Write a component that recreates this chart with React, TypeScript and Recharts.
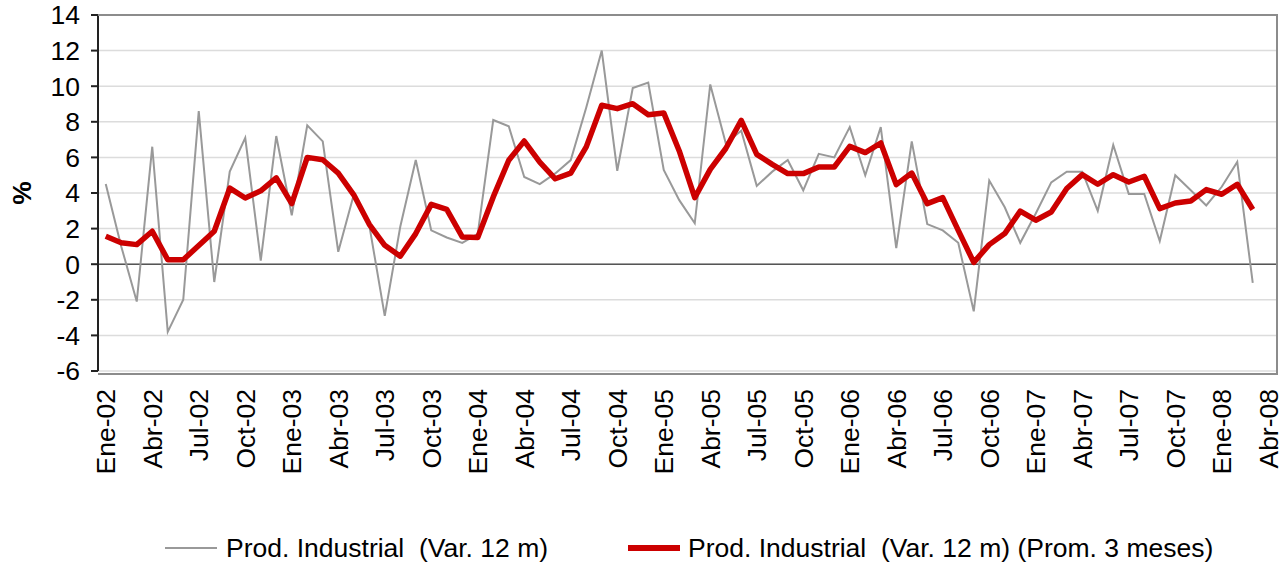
import React from 'react';
import { LineChart, Line, XAxis, YAxis, CartesianGrid, ReferenceLine, Legend } from 'recharts';

const MONTHS = ['Ene', 'Feb', 'Mar', 'Abr', 'May', 'Jun', 'Jul', 'Ago', 'Sep', 'Oct', 'Nov', 'Dic'];
const YEARS = ['02', '03', '04', '05', '06', '07', '08'];
const LAST_MONTH_2008 = 4; // Ene..Abr de 2008

const categories: string[] = [];
YEARS.forEach((y, yi) => {
  const n = yi === YEARS.length - 1 ? LAST_MONTH_2008 : 12;
  for (let m = 0; m < n; m++) categories.push(`${MONTHS[m]}-${y}`);
});

const prodIndustrial: number[] = [
  4.5, 1.0, -2.1, 6.6, -3.8, -2.0, 8.6, -1.0, 5.2, 7.1, 0.2, 7.2,
  2.75, 7.8, 6.9, 0.7, 3.9, 2.2, -2.9, 2.1, 5.85, 1.9, 1.5, 1.2,
  1.7, 8.1, 7.75, 4.9, 4.5, 5.1, 5.85, 8.8, 12.0, 5.25, 9.9, 10.2,
  5.3, 3.6, 2.3, 10.1, 6.8, 7.5, 4.4, 5.2, 5.85, 4.15, 6.2, 6.0,
  7.7, 5.0, 7.7, 0.9, 6.9, 2.25, 1.9, 1.2, -2.65, 4.7, 3.2, 1.2,
  2.85, 4.6, 5.2, 5.2, 3.0, 6.7, 3.95, 3.95, 1.3, 5.0, 4.15, 3.3,
  4.35, 5.75, -1.05,
];

const prodIndustrialProm3: number[] = [
  1.57, 1.2, 1.1, 1.85, 0.25, 0.25, 1.05, 1.85, 4.27, 3.72, 4.12, 4.85,
  3.4, 6.0, 5.87, 5.12, 3.9, 2.24, 1.06, 0.45, 1.72, 3.36, 3.08, 1.53,
  1.5, 3.78, 5.84, 6.92, 5.74, 4.8, 5.12, 6.59, 8.93, 8.74, 9.02, 8.4,
  8.5, 6.36, 3.74, 5.33, 6.5, 8.08, 6.17, 5.61, 5.09, 5.09, 5.46, 5.46,
  6.62, 6.27, 6.81, 4.47, 5.12, 3.4, 3.74, 1.9, 0.1, 1.1, 1.72, 2.98,
  2.47, 2.93, 4.25, 5.03, 4.49, 5.03, 4.62, 4.94, 3.12, 3.44, 3.55, 4.19,
  3.93, 4.49, 3.07,
];

const yTicks: number[] = [-6, -4, -2, 0, 2, 4, 6, 8, 10, 12, 14];

const SERIES_A = 'Prod. Industrial  (Var. 12 m)';
const SERIES_B = 'Prod. Industrial  (Var. 12 m) (Prom. 3 meses)';

const data = categories.map((cat, i) => ({
  cat,
  a: i < prodIndustrial.length ? prodIndustrial[i] : null,
  b: i < prodIndustrialProm3.length ? prodIndustrialProm3[i] : null,
}));

const FONT = '"Liberation Sans", Arial, sans-serif';
const FS = 26.5;

const XTick = (props: any) => {
  const { x, y, payload } = props;
  const ty = y + 10;
  return (
    <text
      x={x}
      y={ty}
      dy="0.36em"
      textAnchor="end"
      transform={`rotate(-90, ${x}, ${ty})`}
      fontFamily={FONT}
      fontSize={FS}
      fill="#000"
    >
      {payload.value}
    </text>
  );
};

const LegendContent = () => (
  <div style={{ position: 'relative', height: 34, width: 1284, fontFamily: FONT, fontSize: FS, color: '#000' }}>
    <div style={{ position: 'absolute', left: 165, top: 16, width: 52, height: 2, background: '#999' }} />
    <div style={{ position: 'absolute', left: 226, top: 0, whiteSpace: 'pre', lineHeight: '34px' }}>{SERIES_A}</div>
    <div style={{ position: 'absolute', left: 628, top: 14, width: 52, height: 6, background: '#cc0000' }} />
    <div style={{ position: 'absolute', left: 688, top: 0, whiteSpace: 'pre', lineHeight: '34px' }}>{SERIES_B}</div>
  </div>
);

export default function App() {
  return (
    <div style={{ position: 'absolute', left: 0, top: 0, width: 1284, height: 567, background: '#fff' }}>
      <LineChart
        width={1284}
        height={567}
        data={data}
        margin={{ top: 15, right: 8, left: 0, bottom: 62 }}
      >
        <CartesianGrid vertical={false} stroke="#dcdcdc" strokeWidth={1.5} />
        <XAxis
          dataKey="cat"
          interval={2}
          tickLine={false}
          axisLine={false}
          height={100}
          padding={{ left: 7.75, right: 7.75 }}
          tick={<XTick />}
        />
        <YAxis
          domain={[-6, 14]}
          ticks={yTicks}
          type="number"
          width={98}
          interval={0}
          tickSize={7}
          tickMargin={11}
          axisLine={{ stroke: '#222', strokeWidth: 2 }}
          tickLine={{ stroke: '#222', strokeWidth: 2 }}
          tick={{ fontFamily: FONT, fontSize: FS, fill: '#000' }}
          label={{
            value: '%',
            angle: -90,
            position: 'insideLeft',
            offset: 22,
            style: { fontFamily: FONT, fontSize: FS, fontWeight: 'bold', fill: '#000', textAnchor: 'middle' },
          }}
        />
        <ReferenceLine y={0} stroke="#555" strokeWidth={1.5} />
        <Line
          type="linear"
          dataKey="a"
          name={SERIES_A}
          stroke="#999999"
          strokeWidth={2}
          dot={false}
          isAnimationActive={false}
        />
        <Line
          type="linear"
          dataKey="b"
          name={SERIES_B}
          stroke="#cc0000"
          strokeWidth={5.5}
          strokeLinejoin="round"
          dot={false}
          isAnimationActive={false}
        />
        <Legend
          verticalAlign="bottom"
          content={<LegendContent />}
          wrapperStyle={{ left: 0, top: 531, width: 1284 }}
        />
      </LineChart>
      <div
        style={{
          position: 'absolute',
          left: 98,
          top: 14,
          width: 1178,
          height: 357,
          borderTop: '2px solid #8c8c8c',
          borderRight: '2px solid #8c8c8c',
          borderBottom: '2px solid #8c8c8c',
          pointerEvents: 'none',
        }}
      />
    </div>
  );
}
